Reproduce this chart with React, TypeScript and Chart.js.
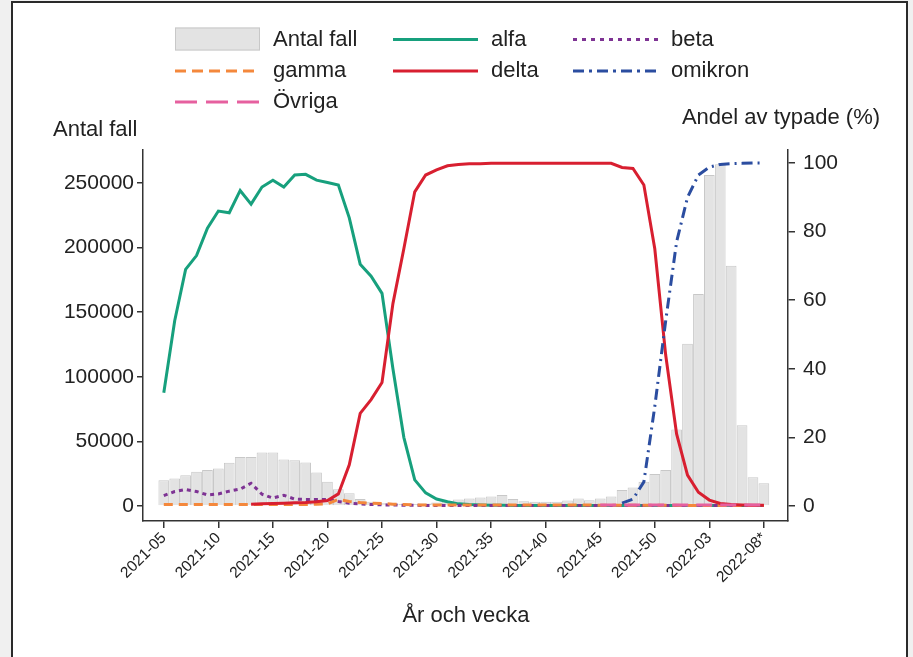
import React, { useEffect, useRef } from 'react';
import { Chart, registerables } from 'chart.js';

Chart.register(...registerables);

const FONT = "'Liberation Sans', Arial, Helvetica, sans-serif";

const weeks = [
  '2021-05', '2021-06', '2021-07', '2021-08', '2021-09', '2021-10', '2021-11', '2021-12',
  '2021-13', '2021-14', '2021-15', '2021-16', '2021-17', '2021-18', '2021-19', '2021-20',
  '2021-21', '2021-22', '2021-23', '2021-24', '2021-25', '2021-26', '2021-27', '2021-28',
  '2021-29', '2021-30', '2021-31', '2021-32', '2021-33', '2021-34', '2021-35', '2021-36',
  '2021-37', '2021-38', '2021-39', '2021-40', '2021-41', '2021-42', '2021-43', '2021-44',
  '2021-45', '2021-46', '2021-47', '2021-48', '2021-49', '2021-50', '2021-51', '2021-52',
  '2022-01', '2022-02', '2022-03', '2022-04', '2022-05', '2022-06', '2022-07', '2022-08*',
];

const xTickIndex = [0, 5, 10, 15, 20, 25, 30, 35, 40, 45, 50, 55];
const leftTicks = [0, 50000, 100000, 150000, 200000, 250000];
const rightTicks = [0, 20, 40, 60, 80, 100];

const antalFall = [
  20000, 21300, 23900, 26500, 27800, 29100, 33400, 38000,
  38000, 41400, 41400, 36000, 35500, 33700, 26000, 18800,
  13000, 9800, 5500, 3200, 2200, 1800, 1500, 1500,
  1900, 2700, 3800, 5000, 5800, 6500, 7300, 8500,
  5500, 3600, 3300, 3300, 3300, 4300, 5800, 4500,
  5900, 7300, 12300, 14400, 18800, 24700, 27800, 59200,
  125500, 164100, 256200, 264400, 186000, 62500, 22300, 17700,
];

const alfa = [
  33, 54, 69, 73, 81, 86, 85.5, 92,
  88, 93, 95, 93, 96.5, 96.7, 95, 94.3,
  93.6, 84, 70.5, 67, 62, 40, 20, 7.6,
  3.8, 2, 1.2, 0.6, 0.4, 0.3, 0.2, 0.2,
  0.1, 0.1, 0.1, 0.1, 0.1, 0.1, 0.1, 0.1,
  0.1, 0.1, 0.1, 0.1, 0.1, 0.1, 0.1, 0.1,
  0.1, 0.1, 0.1, 0.1, 0.1, 0.1, 0.1, 0.1,
];

const beta = [
  3.0, 4.2, 4.8, 4.2, 3.2, 3.5, 4.3, 4.9,
  6.6, 3.4, 2.3, 3.1, 2.0, 1.9, 1.9, 1.9,
  1.3, 0.8, 0.6, 0.4, 0.3, 0.3, 0.2, 0.2,
  0.1, 0.1, 0.1, 0.1, 0.1, 0.1, 0.1, 0.1,
  0.1, 0.1, 0.1, 0.1, 0.1, 0.1, 0.1, 0.1,
  0.1, 0.1, 0.1, 0.1, 0.1, 0.1, 0.1, 0.1,
  0.1, 0.1, 0.1, 0.1, 0.1, 0.1, 0.1, 0.1,
];

const gamma = [
  0.4, 0.4, 0.4, 0.4, 0.4, 0.4, 0.4, 0.4,
  0.4, 0.4, 0.4, 0.4, 0.4, 0.4, 0.5, 0.6,
  1.9, 1.3, 1.0, 0.8, 0.7, 0.5, 0.4, 0.3,
  0.3, 0.3, 0.3, 0.3, 0.3, 0.3, 0.3, 0.3,
  0.3, 0.3, 0.3, 0.3, 0.3, 0.3, 0.3, 0.3,
  0.2, 0.2, 0.2, 0.2, 0.2, 0.2, 0.2, 0.2,
  0.1, 0.1, 0.1, 0.1, 0.1, 0.1, 0.1, 0.1,
];

const delta = [
  null, null, null, null, null, null, null, null,
  0.5, 0.6, 0.7, 0.8, 0.9, 1.0, 1.2, 1.6,
  3.5, 12, 27, 31, 36, 59, 75, 91.6,
  96.5, 98, 99.2, 99.6, 99.8, 99.8, 99.9, 99.9,
  99.9, 99.9, 99.9, 99.9, 99.9, 99.9, 99.9, 99.9,
  99.9, 99.9, 98.7, 98.4, 93.6, 75, 44, 21,
  9, 4, 1.7, 0.7, 0.4, 0.3, 0.2, 0.2,
];

const omikron = [
  null, null, null, null, null, null, null, null,
  null, null, null, null, null, null, null, null,
  null, null, null, null, null, null, null, null,
  null, null, null, null, null, null, null, null,
  null, null, null, null, null, null, null, null,
  null, null, 0.8, 2, 7, 29, 54, 77,
  90, 96.5, 98.8, 99.6, 99.8, 99.9, 100, 100,
];

const ovriga = [
  null, null, null, null, null, null, null, null,
  null, null, null, null, null, null, null, null,
  null, null, null, null, null, null, null, null,
  null, null, null, null, null, null, null, null,
  null, null, null, null, null, null, null, null,
  0.3, 0.3, 0.3, 0.3, 0.3, 0.3, 0.3, 0.3,
  0.3, 0.3, 0.3, 0.3, 0.3, 0.3, 0.3, 0.3,
];

function toPoints(arr: (number | null)[]) {
  const out: { x: number; y: number }[] = [];
  arr.forEach((v, i) => {
    if (v !== null && v !== undefined) out.push({ x: i, y: v });
  });
  return out;
}

const legendPlugin = {
  id: 'customLegendTitles',
  afterDraw(chart: any) {
    const ctx = chart.ctx as CanvasRenderingContext2D;
    const cols = [175, 393, 573];
    const rows = [39.5, 71, 102];
    const swW = 85;
    ctx.save();
    chart.data.datasets.forEach((ds: any, k: number) => {
      const cx = cols[k % 3];
      const cy = rows[Math.floor(k / 3)];
      if (ds.type === 'bar') {
        ctx.fillStyle = ds.backgroundColor;
        ctx.fillRect(cx, cy - 12, swW, 23);
        ctx.strokeStyle = ds.borderColor;
        ctx.lineWidth = 1;
        ctx.strokeRect(cx + 0.5, cy - 11.5, swW - 1, 22);
      } else {
        ctx.strokeStyle = ds.borderColor;
        ctx.lineWidth = ds.borderWidth;
        ctx.lineCap = 'butt';
        ctx.setLineDash(ds.legendDash || ds.borderDash || []);
        ctx.beginPath();
        ctx.moveTo(cx, cy);
        ctx.lineTo(cx + swW, cy);
        ctx.stroke();
        ctx.setLineDash([]);
      }
      ctx.fillStyle = '#222';
      ctx.font = `22px ${FONT}`;
      ctx.textBaseline = 'middle';
      ctx.textAlign = 'left';
      ctx.fillText(ds.label, cx + 98, cy);
    });
    ctx.fillStyle = '#222';
    ctx.font = `22px ${FONT}`;
    ctx.textBaseline = 'middle';
    ctx.textAlign = 'left';
    ctx.fillText('Antal fall', 53, 130);
    ctx.textAlign = 'center';
    ctx.fillText('Andel av typade (%)', 781, 118);
    ctx.fillText('År och vecka', 466, 616);
    ctx.restore();
  },
};

export default function App() {
  const ref = useRef<HTMLCanvasElement | null>(null);

  useEffect(() => {
    if (!ref.current) return;
    const axisColor = '#333';
    const chart = new Chart(ref.current, {
      type: 'bar',
      data: {
        datasets: [
          {
            type: 'bar',
            label: 'Antal fall',
            data: toPoints(antalFall),
            yAxisID: 'y',
            backgroundColor: '#e3e3e3',
            borderColor: '#c8c8c8',
            borderWidth: 1,
            barPercentage: 0.98,
            categoryPercentage: 1,
            order: 10,
          },
          {
            type: 'line',
            label: 'alfa',
            data: toPoints(alfa),
            yAxisID: 'y1',
            borderColor: '#17a07d',
            borderWidth: 3,
            pointRadius: 0,
            tension: 0,
            order: 6,
          },
          {
            type: 'line',
            label: 'beta',
            data: toPoints(beta),
            yAxisID: 'y1',
            borderColor: '#7e3394',
            borderWidth: 3,
            borderDash: [4, 4],
            legendDash: [4, 5],
            pointRadius: 0,
            tension: 0,
            order: 5,
          },
          {
            type: 'line',
            label: 'gamma',
            data: toPoints(gamma),
            yAxisID: 'y1',
            borderColor: '#f4883c',
            borderWidth: 3,
            borderDash: [9, 6],
            legendDash: [11, 6],
            pointRadius: 0,
            tension: 0,
            order: 4,
          },
          {
            type: 'line',
            label: 'delta',
            data: toPoints(delta),
            yAxisID: 'y1',
            borderColor: '#d81f30',
            borderWidth: 3,
            pointRadius: 0,
            tension: 0,
            order: 3,
          },
          {
            type: 'line',
            label: 'omikron',
            data: toPoints(omikron),
            yAxisID: 'y1',
            borderColor: '#2b4da0',
            borderWidth: 3,
            borderDash: [11, 5, 2, 5],
            legendDash: [11, 5, 3, 5],
            pointRadius: 0,
            tension: 0,
            order: 2,
          },
          {
            type: 'line',
            label: 'Övriga',
            data: toPoints(ovriga),
            yAxisID: 'y1',
            borderColor: '#e6609f',
            borderWidth: 3,
            borderDash: [16, 8],
            legendDash: [22, 9],
            pointRadius: 0,
            tension: 0,
            order: 1,
          },
        ] as any,
      },
      options: {
        responsive: false,
        animation: false,
        layout: { padding: { top: 150, left: 0, right: 0, bottom: 0 } },
        plugins: {
          legend: { display: false },
          tooltip: { enabled: false },
        },
        scales: {
          x: {
            type: 'linear',
            min: -1.906,
            max: 57.21,
            offset: false,
            afterBuildTicks: (s: any) => {
              s.ticks = xTickIndex.map((v) => ({ value: v }));
            },
            afterFit: (s: any) => {
              s.height = 136;
            },
            ticks: {
              autoSkip: false,
              minRotation: 45,
              maxRotation: 45,
              padding: 1,
              color: '#222',
              font: { family: FONT, size: 15.5 },
              callback: (v: any) => weeks[v as number] ?? '',
            },
            grid: {
              display: true,
              drawOnChartArea: false,
              drawTicks: true,
              tickLength: 7,
              color: axisColor,
              lineWidth: 1.5,
              offset: false,
            },
            border: { display: true, color: axisColor, width: 1.5 },
          },
          y: {
            type: 'linear',
            position: 'left',
            min: -11600,
            max: 275500,
            afterBuildTicks: (s: any) => {
              s.ticks = leftTicks.map((v) => ({ value: v }));
            },
            afterFit: (s: any) => {
              s.width = 143;
            },
            ticks: {
              padding: 3,
              color: '#222',
              font: { family: FONT, size: 21 },
              callback: (v: any) => String(v),
            },
            grid: {
              display: true,
              drawOnChartArea: false,
              drawTicks: true,
              tickLength: 6,
              color: axisColor,
              lineWidth: 1.5,
            },
            border: { display: true, color: axisColor, width: 1.5 },
          },
          y1: {
            type: 'linear',
            position: 'right',
            min: -4.4,
            max: 103.8,
            afterBuildTicks: (s: any) => {
              s.ticks = rightTicks.map((v) => ({ value: v }));
            },
            afterFit: (s: any) => {
              s.width = 125;
            },
            ticks: {
              padding: 8,
              color: '#222',
              font: { family: FONT, size: 21 },
              callback: (v: any) => String(v),
            },
            grid: {
              display: true,
              drawOnChartArea: false,
              drawTicks: true,
              tickLength: 7,
              color: axisColor,
              lineWidth: 1.5,
            },
            border: { display: true, color: axisColor, width: 1.5 },
          },
        },
      } as any,
      plugins: [legendPlugin],
    });
    return () => chart.destroy();
  }, []);

  return (
    <div
      style={{
        position: 'fixed',
        left: 0,
        top: 0,
        width: 913,
        height: 657,
        overflow: 'hidden',
        background: '#f0f0f0',
      }}
    >
      <div
        style={{
          position: 'absolute',
          left: 11,
          top: 1,
          width: 893,
          height: 700,
          border: '2px solid #2a2a2a',
          background: '#ffffff',
        }}
      />
      <canvas
        ref={ref}
        width={913}
        height={657}
        style={{ position: 'absolute', left: 0, top: 0, width: 913, height: 657 }}
      />
    </div>
  );
}
